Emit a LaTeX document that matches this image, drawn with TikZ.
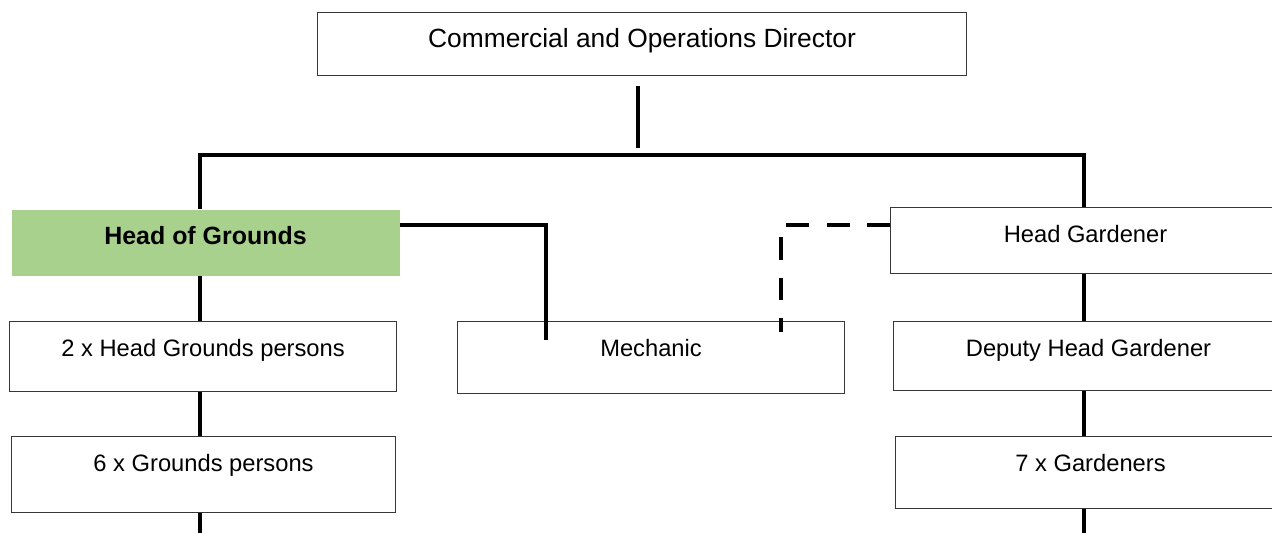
\documentclass[tikz,border=0pt]{standalone}
\usepackage{fontspec}
\setmainfont{Liberation Sans}
\begin{document}
\begin{tikzpicture}[x=0.02cm,y=-0.02cm,font=\fontsize{13.5}{16}\selectfont]
  \definecolor{ink}{RGB}{0,0,0}
  \definecolor{frame}{RGB}{55,55,55}
  \definecolor{leaf}{RGB}{169,209,142}
  \tikzset{
    post/.style 2 args={draw=frame, line width=0.6pt, inner sep=0pt, anchor=north west,
      minimum width=#1*0.02cm, text height=0.7cm, text depth={(#2-35)*0.02cm}},
    link/.style={ink, line width=2.5pt},
    loose/.style={link, dash pattern=on 13pt off 10pt}
  }

  \clip (0,0) rectangle (1272,533);

  % boxes
  \node[post={649}{63}, font=\fontsize{15}{18}\selectfont] (director) at (317,12) {Commercial and Operations Director};
  \node[post={388}{66}, fill=leaf, draw=none, font=\fontsize{14.2}{17}\selectfont\bfseries] (hog) at (11,209) {Head of Grounds};
  \node[post={387}{70}] (hgp) at (9,321) {2 x Head Grounds persons};
  \node[post={384}{76}] (gp) at (11,436) {6 x Grounds persons};
  \node[post={387}{72}] (mech) at (457,321) {Mechanic};
  \node[post={390}{66}] (hg) at (890,207) {Head Gardener};
  \node[post={390}{69}] (dhg) at (893,321) {Deputy Head Gardener};
  \node[post={390}{72}] (gard) at (895,436) {7 x Gardeners};

  % links
  \coordinate (bar) at (638,155);
  \coordinate (lcol) at (200,155);
  \coordinate (rcol) at (1084,155);
  \coordinate (lfoot) at (200,540);
  \coordinate (rfoot) at (1084,540);
  \coordinate (mtap) at (546,340);
  \coordinate (dtap) at (781,332);

  \draw[link, shorten <=0.2cm, shorten >=0.14cm] (bar |- director.south) -- (bar);
  \draw[link] (lcol |- hog.north) -- (lcol) -- (rcol) -- (rcol |- hg.north);

  \foreach \a/\b in {hog/hgp, hgp/gp} {
    \draw[link] (lcol |- \a.south) -- (lcol |- \b.north);
  }
  \draw[link] (lcol |- gp.south) -- (lfoot);
  \foreach \a/\b in {hg/dhg, dhg/gard} {
    \draw[link] (rcol |- \a.south) -- (rcol |- \b.north);
  }
  \draw[link] (rcol |- gard.south) -- (rfoot);

  \draw[link] ([yshift=-0.32cm]hog.north east) -| (mtap);
  \draw[loose] ([yshift=-0.36cm]hg.north west) -| (dtap);
\end{tikzpicture}
\end{document}
